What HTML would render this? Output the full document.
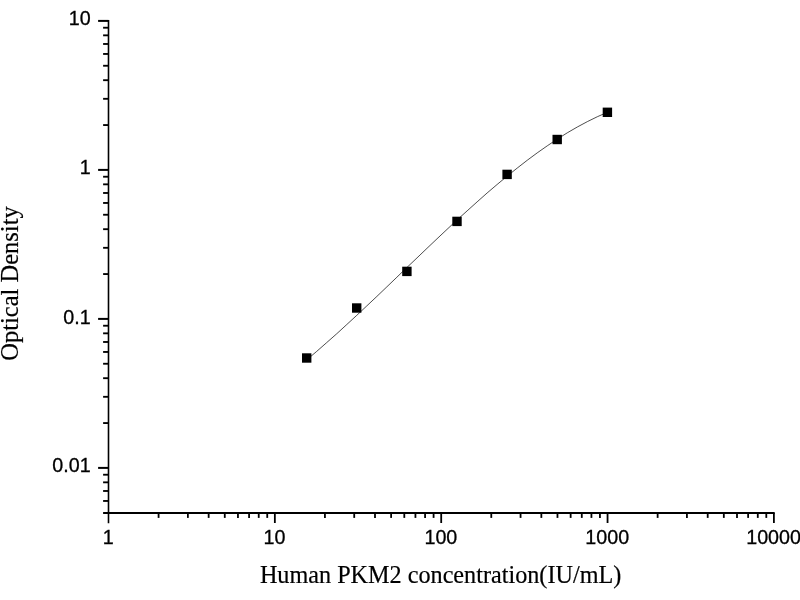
<!DOCTYPE html>
<html><head><meta charset="utf-8"><title>Human PKM2 standard curve</title>
<style>
html,body{margin:0;padding:0;background:#fff;}
body{width:800px;height:600px;overflow:hidden;}
svg{display:block;}
.tl{font-family:"Liberation Sans",Arial,sans-serif;font-size:19.7px;fill:#000;stroke:#000;stroke-width:0.3px;}
.at{font-family:"Liberation Serif","Times New Roman",serif;font-size:24.2px;fill:#000;stroke:#000;stroke-width:0.2px;}
</style></head><body>
<svg width="800" height="600" viewBox="0 0 800 600">
<rect width="800" height="600" fill="#fff"/>

<g stroke="#000" fill="none">
<line x1="108.5" y1="19.9" x2="108.5" y2="523.20" stroke-width="1.6"/>
<line x1="103.1" y1="513.0" x2="774.70" y2="513.0" stroke-width="1.9"/>
<line x1="98.1" y1="20.90" x2="108.5" y2="20.90" stroke-width="2"/>
<line x1="98.1" y1="169.90" x2="108.5" y2="169.90" stroke-width="2"/>
<line x1="98.1" y1="318.90" x2="108.5" y2="318.90" stroke-width="2"/>
<line x1="98.1" y1="467.90" x2="108.5" y2="467.90" stroke-width="2"/>
<line x1="103.1" y1="125.05" x2="108.5" y2="125.05" stroke-width="1.85"/>
<line x1="103.1" y1="98.81" x2="108.5" y2="98.81" stroke-width="1.85"/>
<line x1="103.1" y1="80.19" x2="108.5" y2="80.19" stroke-width="1.85"/>
<line x1="103.1" y1="65.75" x2="108.5" y2="65.75" stroke-width="1.85"/>
<line x1="103.1" y1="53.96" x2="108.5" y2="53.96" stroke-width="1.85"/>
<line x1="103.1" y1="43.98" x2="108.5" y2="43.98" stroke-width="1.85"/>
<line x1="103.1" y1="35.34" x2="108.5" y2="35.34" stroke-width="1.85"/>
<line x1="103.1" y1="27.72" x2="108.5" y2="27.72" stroke-width="1.85"/>
<line x1="103.1" y1="274.05" x2="108.5" y2="274.05" stroke-width="1.85"/>
<line x1="103.1" y1="247.81" x2="108.5" y2="247.81" stroke-width="1.85"/>
<line x1="103.1" y1="229.19" x2="108.5" y2="229.19" stroke-width="1.85"/>
<line x1="103.1" y1="214.75" x2="108.5" y2="214.75" stroke-width="1.85"/>
<line x1="103.1" y1="202.96" x2="108.5" y2="202.96" stroke-width="1.85"/>
<line x1="103.1" y1="192.98" x2="108.5" y2="192.98" stroke-width="1.85"/>
<line x1="103.1" y1="184.34" x2="108.5" y2="184.34" stroke-width="1.85"/>
<line x1="103.1" y1="176.72" x2="108.5" y2="176.72" stroke-width="1.85"/>
<line x1="103.1" y1="423.05" x2="108.5" y2="423.05" stroke-width="1.85"/>
<line x1="103.1" y1="396.81" x2="108.5" y2="396.81" stroke-width="1.85"/>
<line x1="103.1" y1="378.19" x2="108.5" y2="378.19" stroke-width="1.85"/>
<line x1="103.1" y1="363.75" x2="108.5" y2="363.75" stroke-width="1.85"/>
<line x1="103.1" y1="351.96" x2="108.5" y2="351.96" stroke-width="1.85"/>
<line x1="103.1" y1="341.98" x2="108.5" y2="341.98" stroke-width="1.85"/>
<line x1="103.1" y1="333.34" x2="108.5" y2="333.34" stroke-width="1.85"/>
<line x1="103.1" y1="325.72" x2="108.5" y2="325.72" stroke-width="1.85"/>
<line x1="103.1" y1="500.96" x2="108.5" y2="500.96" stroke-width="1.85"/>
<line x1="103.1" y1="490.98" x2="108.5" y2="490.98" stroke-width="1.85"/>
<line x1="103.1" y1="482.34" x2="108.5" y2="482.34" stroke-width="1.85"/>
<line x1="103.1" y1="474.72" x2="108.5" y2="474.72" stroke-width="1.85"/>
<line x1="274.85" y1="513.0" x2="274.85" y2="523.0" stroke-width="1.8"/>
<line x1="441.20" y1="513.0" x2="441.20" y2="523.0" stroke-width="1.8"/>
<line x1="607.55" y1="513.0" x2="607.55" y2="523.0" stroke-width="1.8"/>
<line x1="773.90" y1="513.0" x2="773.90" y2="523.0" stroke-width="1.8"/>
<line x1="158.58" y1="513.0" x2="158.58" y2="517.9" stroke-width="1.8"/>
<line x1="187.87" y1="513.0" x2="187.87" y2="517.9" stroke-width="1.8"/>
<line x1="208.65" y1="513.0" x2="208.65" y2="517.9" stroke-width="1.8"/>
<line x1="224.77" y1="513.0" x2="224.77" y2="517.9" stroke-width="1.8"/>
<line x1="237.95" y1="513.0" x2="237.95" y2="517.9" stroke-width="1.8"/>
<line x1="249.08" y1="513.0" x2="249.08" y2="517.9" stroke-width="1.8"/>
<line x1="258.73" y1="513.0" x2="258.73" y2="517.9" stroke-width="1.8"/>
<line x1="267.24" y1="513.0" x2="267.24" y2="517.9" stroke-width="1.8"/>
<line x1="324.93" y1="513.0" x2="324.93" y2="517.9" stroke-width="1.8"/>
<line x1="354.22" y1="513.0" x2="354.22" y2="517.9" stroke-width="1.8"/>
<line x1="375.00" y1="513.0" x2="375.00" y2="517.9" stroke-width="1.8"/>
<line x1="391.12" y1="513.0" x2="391.12" y2="517.9" stroke-width="1.8"/>
<line x1="404.30" y1="513.0" x2="404.30" y2="517.9" stroke-width="1.8"/>
<line x1="415.43" y1="513.0" x2="415.43" y2="517.9" stroke-width="1.8"/>
<line x1="425.08" y1="513.0" x2="425.08" y2="517.9" stroke-width="1.8"/>
<line x1="433.59" y1="513.0" x2="433.59" y2="517.9" stroke-width="1.8"/>
<line x1="491.28" y1="513.0" x2="491.28" y2="517.9" stroke-width="1.8"/>
<line x1="520.57" y1="513.0" x2="520.57" y2="517.9" stroke-width="1.8"/>
<line x1="541.35" y1="513.0" x2="541.35" y2="517.9" stroke-width="1.8"/>
<line x1="557.47" y1="513.0" x2="557.47" y2="517.9" stroke-width="1.8"/>
<line x1="570.65" y1="513.0" x2="570.65" y2="517.9" stroke-width="1.8"/>
<line x1="581.78" y1="513.0" x2="581.78" y2="517.9" stroke-width="1.8"/>
<line x1="591.43" y1="513.0" x2="591.43" y2="517.9" stroke-width="1.8"/>
<line x1="599.94" y1="513.0" x2="599.94" y2="517.9" stroke-width="1.8"/>
<line x1="657.63" y1="513.0" x2="657.63" y2="517.9" stroke-width="1.8"/>
<line x1="686.92" y1="513.0" x2="686.92" y2="517.9" stroke-width="1.8"/>
<line x1="707.70" y1="513.0" x2="707.70" y2="517.9" stroke-width="1.8"/>
<line x1="723.82" y1="513.0" x2="723.82" y2="517.9" stroke-width="1.8"/>
<line x1="737.00" y1="513.0" x2="737.00" y2="517.9" stroke-width="1.8"/>
<line x1="748.13" y1="513.0" x2="748.13" y2="517.9" stroke-width="1.8"/>
<line x1="757.78" y1="513.0" x2="757.78" y2="517.9" stroke-width="1.8"/>
<line x1="766.29" y1="513.0" x2="766.29" y2="517.9" stroke-width="1.8"/>
</g>
<text class="tl" x="90.7" y="25.4" text-anchor="end">10</text>
<text class="tl" x="90.7" y="174.3" text-anchor="end">1</text>
<text class="tl" x="90.7" y="323.6" text-anchor="end">0.1</text>
<text class="tl" x="90.7" y="471.8" text-anchor="end">0.01</text>
<text class="tl" x="108.20" y="544.2" text-anchor="middle">1</text>
<text class="tl" x="274.55" y="544.2" text-anchor="middle">10</text>
<text class="tl" x="440.90" y="544.2" text-anchor="middle">100</text>
<text class="tl" x="607.25" y="544.2" text-anchor="middle">1000</text>
<text class="tl" x="773.60" y="544.2" text-anchor="middle">10000</text>
<text class="at" x="440.6" y="583.2" text-anchor="middle">Human PKM2 concentration(IU/mL)</text>
<text class="at" style="font-size:24.5px" transform="translate(18.3 283.5) rotate(-90)" text-anchor="middle">Optical Density</text>
<polyline points="306.7,359.9 316.7,351.4 326.7,342.6 336.8,333.7 346.8,324.5 356.8,315.3 366.8,305.9 376.9,296.4 386.9,286.8 396.9,277.2 406.9,267.5 417.0,257.9 427.0,248.3 437.0,238.8 447.0,229.4 457.0,220.0 467.1,210.9 477.1,201.9 487.1,193.0 497.1,184.5 507.2,176.1 517.2,168.1 527.2,160.3 537.2,152.9 547.3,145.8 557.3,139.1 567.3,132.8 577.3,127.0 587.4,121.6 597.4,116.7 607.4,112.3" fill="none" stroke="#000" stroke-width="0.7" stroke-linejoin="round"/>
<g fill="#000">
<rect x="302.0" y="353.3" width="9.4" height="9.4"/>
<rect x="352.0" y="303.3" width="9.4" height="9.4"/>
<rect x="402.2" y="266.7" width="9.4" height="9.4"/>
<rect x="452.3" y="216.7" width="9.4" height="9.4"/>
<rect x="502.4" y="169.7" width="9.4" height="9.4"/>
<rect x="552.5" y="134.8" width="9.4" height="9.4"/>
<rect x="602.7" y="107.6" width="9.4" height="9.4"/>
</g>
</svg></body></html>
